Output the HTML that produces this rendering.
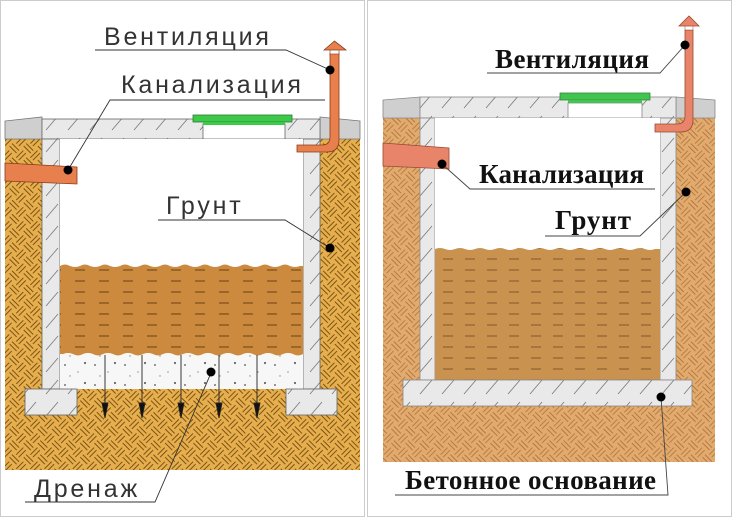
<!DOCTYPE html>
<html><head><meta charset="utf-8"><style>
html,body{margin:0;padding:0;background:#fff;}
svg{display:block;}
.lt{font-family:"Liberation Sans",sans-serif;font-size:25px;fill:#333;letter-spacing:2.8px;}
.rt{font-family:"Liberation Serif",serif;font-weight:bold;font-size:27px;fill:#111;}
</style></head><body>
<svg width="732" height="517" viewBox="0 0 732 517" xmlns="http://www.w3.org/2000/svg">
<defs>
<pattern id="soilL" width="20" height="20" patternUnits="userSpaceOnUse" patternTransform="rotate(45)">
<rect width="20" height="20" fill="#E6AE4C"/>
<path d="M0 3H10M0 6.5H10M10 13H20M10 16.5H20M13 0V10M16.5 0V10M3 10V20M6.5 10V20" stroke="#7a5418" stroke-width="1"/>
</pattern>
<pattern id="soilR" width="20" height="20" patternUnits="userSpaceOnUse" patternTransform="rotate(45)">
<rect width="20" height="20" fill="#E2AA6C"/>
<path d="M0 3H10M0 6.5H10M10 13H20M10 16.5H20M13 0V10M16.5 0V10M3 10V20M6.5 10V20" stroke="#b27a44" stroke-width="0.9"/>
</pattern>
<pattern id="conc" width="22" height="22" patternUnits="userSpaceOnUse">
<rect width="22" height="22" fill="#e9e9e9"/>
<path d="M2 20L14 6" stroke="#777" stroke-width="0.8"/>
</pattern>
<pattern id="sludgeL" width="24" height="11" patternUnits="userSpaceOnUse">
<rect width="24" height="11" fill="#CC8A3E"/>
<path d="M3 6H13" stroke="#6b4015" stroke-width="1"/>
</pattern>
<pattern id="sludgeR" width="22" height="11" patternUnits="userSpaceOnUse">
<rect width="22" height="11" fill="#C9924F"/>
<path d="M3 6H13" stroke="#7a5024" stroke-width="0.9"/>
</pattern>
<pattern id="grav" width="30" height="20" patternUnits="userSpaceOnUse">
<rect width="30" height="20" fill="#f7f7f7"/>
<circle cx="5" cy="5" r="1" fill="#777"/><circle cx="18" cy="12" r="0.8" fill="#999"/><circle cx="25" cy="3" r="1.1" fill="#666"/><circle cx="10" cy="16" r="0.7" fill="#888"/>
</pattern>
</defs>
<rect x="0.5" y="0.5" width="364" height="516" fill="none" stroke="#ccc"/>
<rect x="367.5" y="0.5" width="364" height="516" fill="none" stroke="#ccc"/>

<!-- ===== LEFT ===== -->
<rect x="5" y="139" width="355" height="331" fill="url(#soilL)"/>
<path d="M5 121L42 117V139H5Z" fill="#cfcfcf" stroke="#777" stroke-width="0.8"/>
<path d="M320 117L360 121V139H320Z" fill="#cfcfcf" stroke="#777" stroke-width="0.8"/>
<rect x="42" y="119" width="278" height="20" fill="url(#conc)" stroke="#666" stroke-width="0.8"/>
<rect x="203" y="124" width="82" height="15" fill="#fff" stroke="#666" stroke-width="0.8"/>
<rect x="193" y="115" width="99" height="7" fill="#3dc94a" stroke="#2a7a2e" stroke-width="0.8"/>
<rect x="203" y="122" width="82" height="3" fill="#3dc94a"/>
<rect x="42" y="139" width="18" height="250" fill="url(#conc)" stroke="#666" stroke-width="0.8"/>
<rect x="303" y="139" width="17" height="250" fill="url(#conc)" stroke="#666" stroke-width="0.8"/>
<rect x="60" y="139" width="243" height="250" fill="#fff"/>
<rect x="60" y="354" width="243" height="35" fill="url(#grav)"/>
<path d="M60 266q5 -3 10 0q5 2 10 0q5 -3 10 0q5 2 10 0q5 -3 10 0q5 2 10 0q5 -3 10 0q5 2 10 0q5 -3 10 0q5 2 10 0q5 -3 10 0q5 2 10 0q5 -3 10 0q5 2 10 0q5 -3 10 0q5 2 10 0q5 -3 10 0q5 2 10 0q5 -3 10 0q5 2 10 0q5 -3 10 0q5 2 10 0q5 -3 10 0q5 2 10 0L303 266V354q-5 3 -10 0q-5 -2 -10 0q-5 3 -10 0q-5 -2 -10 0q-5 3 -10 0q-5 -2 -10 0q-5 3 -10 0q-5 -2 -10 0q-5 3 -10 0q-5 -2 -10 0q-5 3 -10 0q-5 -2 -10 0q-5 3 -10 0q-5 -2 -10 0q-5 3 -10 0q-5 -2 -10 0q-5 3 -10 0q-5 -2 -10 0q-5 3 -10 0q-5 -2 -10 0q-5 3 -10 0q-5 -2 -10 0q-5 3 -10 0q-5 -2 -10 0L60 354Z" fill="url(#sludgeL)"/>
<rect x="25" y="389" width="52" height="26" fill="url(#conc)" stroke="#666" stroke-width="0.8"/>
<rect x="286" y="389" width="51" height="26" fill="url(#conc)" stroke="#666" stroke-width="0.8"/>
<g stroke="#222" stroke-width="0.9" fill="#111">
<line x1="105" y1="355" x2="105" y2="405"/><path d="M102 403L105 418L108 403Z"/>
<line x1="142" y1="355" x2="142" y2="405"/><path d="M139 403L142 418L145 403Z"/>
<line x1="181" y1="355" x2="181" y2="405"/><path d="M178 403L181 418L184 403Z"/>
<line x1="219" y1="355" x2="219" y2="405"/><path d="M216 403L219 418L222 403Z"/>
<line x1="257" y1="355" x2="257" y2="405"/><path d="M254 403L257 418L260 403Z"/>
</g>
<path d="M5 163L77 167V184L5 181Z" fill="#E8804E" stroke="#8a3a1a" stroke-width="0.8"/>
<path d="M330 53H339V140Q339 152 327 152H297V145H322Q330 145 330 137Z" fill="#E8804E" stroke="#8a3a1a" stroke-width="0.8"/>
<rect x="330" y="49" width="9" height="5" fill="#fff" stroke="#8a3a1a" stroke-width="0.6"/>
<path d="M324 50L334.5 41L346 50Z" fill="#E8804E" stroke="#8a3a1a" stroke-width="0.8"/>
<g stroke="#333" stroke-width="0.9" fill="none">
<path d="M95 50H286L330 70"/>
<path d="M325 100H110L68 170"/>
<path d="M158 220H285L330 248"/>
<path d="M25 502H155L211 373"/>
</g>
<g fill="#000"><circle cx="330" cy="70" r="4.5"/><circle cx="68" cy="170" r="4.5"/><circle cx="330" cy="248" r="4.5"/><circle cx="211" cy="372" r="4.5"/></g>
<text class="lt" x="104" y="45">Вентиляция</text>
<text class="lt" x="121" y="93">Канализация</text>
<text class="lt" x="166" y="214">Грунт</text>
<text class="lt" x="34" y="497">Дренаж</text>

<!-- ===== RIGHT ===== -->
<rect x="383" y="118" width="332" height="344" fill="url(#soilR)"/>
<path d="M383 100L420 97V118H383Z" fill="#cfcfcf" stroke="#888" stroke-width="0.8"/>
<path d="M676 97L715 100V118H676Z" fill="#cfcfcf" stroke="#888" stroke-width="0.8"/>
<rect x="420" y="97" width="256" height="21" fill="url(#conc)" stroke="#888" stroke-width="0.8"/>
<rect x="568" y="103" width="74" height="15" fill="#fff" stroke="#888" stroke-width="0.8"/>
<rect x="560" y="93" width="90" height="7" fill="#43c451" stroke="#2e8a35" stroke-width="0.8"/>
<rect x="568" y="100" width="74" height="3" fill="#43c451"/>
<rect x="420" y="118" width="15" height="262" fill="url(#conc)" stroke="#888" stroke-width="0.8"/>
<rect x="660" y="118" width="16" height="262" fill="url(#conc)" stroke="#888" stroke-width="0.8"/>
<rect x="435" y="118" width="225" height="262" fill="#fff"/>
<path d="M435 249q5 -2 10 0q5 2 10 0q5 -2 10 0q5 2 10 0q5 -2 10 0q5 2 10 0q5 -2 10 0q5 2 10 0q5 -2 10 0q5 2 10 0q5 -2 10 0q5 2 10 0q5 -2 10 0q5 2 10 0q5 -2 10 0q5 2 10 0q5 -2 10 0q5 2 10 0q5 -2 10 0q5 2 10 0q5 -2 10 0q5 2 10 0L660 249V380H435Z" fill="url(#sludgeR)"/>
<rect x="403" y="380" width="289" height="26" fill="url(#conc)" stroke="#888" stroke-width="0.8"/>
<path d="M383 143L449 148V169L383 166Z" fill="#E8846A" stroke="#9a4a30" stroke-width="0.8"/>
<path d="M685 30H693V120Q693 132 681 132H655V124H677Q685 124 685 116Z" fill="#E8846A" stroke="#9a4a30" stroke-width="0.8"/>
<rect x="685" y="25" width="8" height="5" fill="#fff" stroke="#9a4a30" stroke-width="0.5"/>
<path d="M679 26L689 16L699 26Z" fill="#E8846A" stroke="#9a4a30" stroke-width="0.8"/>
<g stroke="#444" stroke-width="0.9" fill="none">
<path d="M487 73H660L685 45"/>
<path d="M655 189H470L442 164"/>
<path d="M545 236H640L686 192"/>
<path d="M395 495H668L661 397"/>
</g>
<g fill="#000"><circle cx="685" cy="45" r="4.5"/><circle cx="442" cy="164" r="4.5"/><circle cx="686" cy="192" r="4.5"/><circle cx="661" cy="397" r="4.5"/></g>
<text class="rt" x="495" y="68" textLength="154">Вентиляция</text>
<text class="rt" x="479" y="183" textLength="165">Канализация</text>
<text class="rt" x="555" y="229" textLength="76">Грунт</text>
<text class="rt" x="405" y="489" textLength="251">Бетонное основание</text>
</svg>
</body></html>
